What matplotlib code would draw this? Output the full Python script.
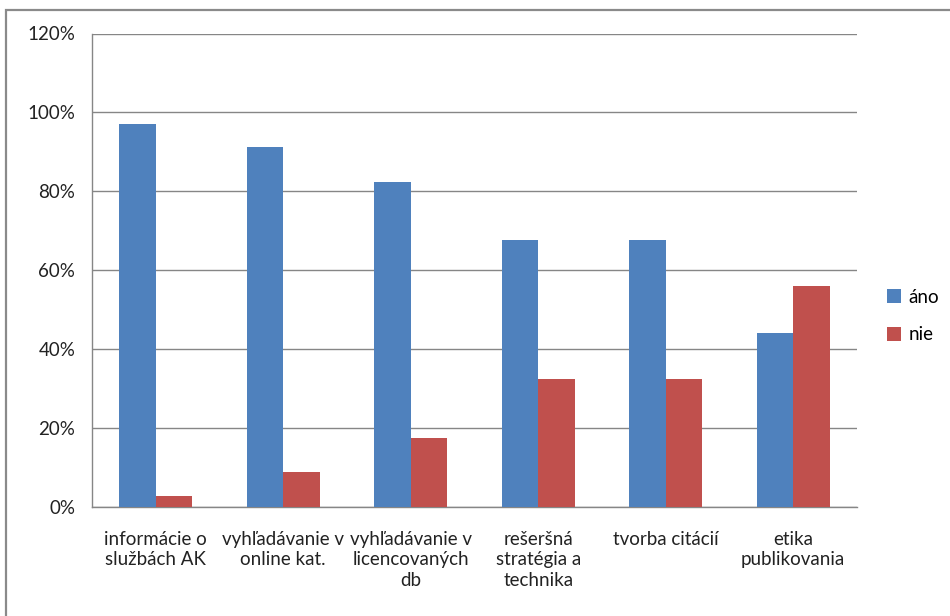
import matplotlib
matplotlib.use("Agg")
import matplotlib.pyplot as plt
from matplotlib.patches import Rectangle, Patch
from matplotlib.ticker import FuncFormatter

categories = [
    "informácie o\nslužbách AK",
    "vyhľadávanie v\nonline kat.",
    "vyhľadávanie v\nlicencovaných\ndb",
    "rešeršná\nstratégia a\ntechnika",
    "tvorba citácií",
    "etika\npublikovania",
]
ano = [97.1, 91.2, 82.4, 67.6, 67.6, 44.1]
nie = [2.9, 8.8, 17.6, 32.4, 32.4, 55.9]
series_names = ["áno", "nie"]
yticks = [0, 20, 40, 60, 80, 100, 120]

BLUE = "#4F81BD"
RED = "#C0504D"
GRID = "#868686"

plt.rcParams["font.family"] = ["Lato", "DejaVu Sans"]

W, H = 950, 616
fig = plt.figure(figsize=(W / 100, H / 100), dpi=100)
fig.patch.set_facecolor("white")

# chart frame (extends past the right/bottom edges)
fig.add_artist(Rectangle((6 / W, -0.05), 1.2, 1 - 10 / H + 0.05,
                         transform=fig.transFigure, fill=False,
                         edgecolor="#8A8A8A", linewidth=1.6))

ax = fig.add_axes([92 / W, 1 - 507 / H, (857 - 92) / W, (507 - 33.5) / H])
ax.set_facecolor("white")

w = 1 / 3.5
x = list(range(len(categories)))
ax.bar([i - w / 2 for i in x], ano, width=w, color=BLUE, zorder=3)
ax.bar([i + w / 2 for i in x], nie, width=w, color=RED, zorder=3)

ax.set_xlim(-0.5, len(categories) - 0.5)
ax.set_ylim(0, 120)
ax.set_yticks(yticks)
ax.yaxis.set_major_formatter(FuncFormatter(lambda v, p: f"{v:.0f}%"))
ax.grid(axis="y", color=GRID, linewidth=1.0, zorder=0)

ax.set_xticks(x)
ax.set_xticklabels(categories, linespacing=1.25)
ax.tick_params(axis="x", length=0, pad=17, labelsize=13.5, colors="#222222")
ax.tick_params(axis="y", length=0, pad=12, labelsize=13.5, colors="#222222")

for s in ["top", "right"]:
    ax.spines[s].set_visible(False)
for s in ["left", "bottom"]:
    ax.spines[s].set_color(GRID)
    ax.spines[s].set_linewidth(1.0)

handles = [Patch(facecolor=BLUE), Patch(facecolor=RED)]
fig.legend(handles, series_names, loc="center left",
           bbox_to_anchor=(870 / W, 1 - 316 / H), frameon=False,
           fontsize=13.5, handlelength=0.75, handleheight=0.75,
           handletextpad=0.4, labelspacing=1.1)

fig.savefig("out.png", dpi=100)
